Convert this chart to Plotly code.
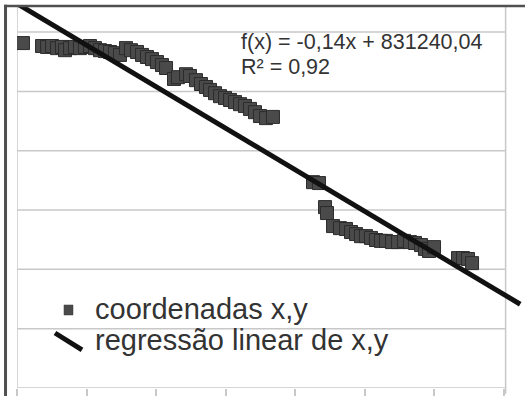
import plotly.graph_objects as go

# ---- data ----
cluster1_x = [499686, 499960, 500032, 500104, 500176, 500247, 500291, 500363, 500434, 500506,
              500578, 500650, 500722, 500794, 500866, 500938, 501010, 501082, 501168, 501240,
              501327, 501399, 501470, 501542, 501614, 501686, 501744, 501859, 501916, 502032,
              502089, 502175, 502247, 502319, 502377, 502449, 502521, 502593, 502665, 502737,
              502809, 502880, 502952, 503024, 503096, 503183, 503283]
cluster1_y = [761163, 761153, 761150, 761153, 761146, 761150, 761139, 761146, 761150, 761146,
              761150, 761153, 761146, 761139, 761136, 761133, 761129, 761123, 761146, 761139,
              761133, 761123, 761116, 761109, 761099, 761089, 761079, 761042, 761048, 761058,
              761052, 761038, 761025, 761015, 761005, 760994, 760984, 760978, 760971, 760964,
              760957, 760951, 760941, 760930, 760917, 760910, 760914]
cluster2_x = [503859, 503945, 504032, 504060, 504147, 504247, 504334, 504406, 504478, 504549,
              504621, 504693, 504765, 504837, 504909, 504996, 505082, 505168, 505254, 505326,
              505413, 505470, 505528, 505600, 505945, 506017, 506089, 506147]
cluster2_y = [760694, 760691, 760610, 760590, 760546, 760539, 760536, 760526, 760519, 760512,
              760512, 760506, 760499, 760496, 760496, 760492, 760492, 760496, 760492, 760489,
              760482, 760469, 760462, 760475, 760438, 760438, 760435, 760421]

slope = -0.14
intercept = 831240.04
r2 = 0.92
line_x_ends = [499500, 506840]

x_ticks = [499600 + 1000 * i for i in range(8)]
y_grid = [760000 + 200 * i for i in range(1, 7)]

series_name = "coordenadas x,y"
line_name = "regressão linear de x,y"

# ---- figure ----
pts_x = cluster1_x + cluster2_x
pts_y = cluster1_y + cluster2_y
line_y = [intercept + slope * v for v in line_x_ends]

x_min, x_max = 499600, 506909
y_min, y_max = 760000, 761288
x_right = 506630

fig = go.Figure()
fig.add_trace(go.Scatter(
    x=pts_x, y=pts_y, mode="markers", name=series_name, showlegend=False,
    marker=dict(symbol="square", size=13, color="#4a4a4a",
                line=dict(color="#2c2c2c", width=1)),
))
fig.add_trace(go.Scatter(
    x=line_x_ends, y=line_y, mode="lines", name=line_name, showlegend=False,
    line=dict(color="#111111", width=5),
))

shapes = []
grey = "#c8c8c8"
for g in y_grid:
    shapes.append(dict(type="line", xref="x", yref="y", x0=x_min, x1=x_right, y0=g, y1=g,
                       line=dict(color=grey, width=1.5), layer="below"))
# bottom axis line
shapes.append(dict(type="line", xref="x", yref="y", x0=x_min, x1=x_right, y0=y_min, y1=y_min,
                   line=dict(color=grey, width=1.5), layer="below"))
# left / right plot-area lines
shapes.append(dict(type="line", xref="x", yref="paper", x0=x_min, x1=x_min, y0=0, y1=1,
                   line=dict(color=grey, width=1.5), layer="below"))
shapes.append(dict(type="line", xref="x", yref="paper", x0=x_right, x1=x_right, y0=-0.015, y1=1,
                   line=dict(color=grey, width=1.5), layer="below"))
# outer dark border (top and left)
shapes.append(dict(type="line", xref="paper", yref="paper", x0=-0.0256, x1=1.0, y0=1.0, y1=1.0,
                   line=dict(color="#505050", width=2.5)))
shapes.append(dict(type="line", xref="paper", yref="paper", x0=-0.0226, x1=-0.0226, y0=1.003, y1=-0.03,
                   line=dict(color="#505050", width=3)))
# custom legend symbols
shapes.append(dict(type="rect", xref="paper", yref="paper", x0=0.0925, x1=0.1102, y0=0.1911, y1=0.2173,
                   fillcolor="#4a4a4a", line=dict(color="#3a3a3a", width=0.5)))
shapes.append(dict(type="line", xref="paper", yref="paper", x0=0.0748, y0=0.144, x1=0.128, y1=0.0995,
                   line=dict(color="#111111", width=5)))

font_family = "Liberation Sans, Arial, sans-serif"
annotations = [
    dict(text="f(x) = " + f"{slope:.2f}".replace(".", ",") + "x + " + f"{intercept:.2f}".replace(".", ","),
         xref="paper", yref="paper", x=0.437, y=0.905, xanchor="left", yanchor="middle",
         showarrow=False, font=dict(size=21.5, color="#333333", family=font_family)),
    dict(text="R² = " + f"{r2:.2f}".replace(".", ","),
         xref="paper", yref="paper", x=0.437, y=0.840, xanchor="left", yanchor="middle",
         showarrow=False, font=dict(size=21.5, color="#333333", family=font_family)),
    dict(text=series_name, xref="paper", yref="paper", x=0.150, y=0.206,
         xanchor="left", yanchor="middle", showarrow=False,
         font=dict(size=29, color="#333333", family=font_family)),
    dict(text=line_name, xref="paper", yref="paper", x=0.150, y=0.126,
         xanchor="left", yanchor="middle", showarrow=False,
         font=dict(size=29, color="#333333", family=font_family)),
]

fig.update_layout(
    width=525, height=396,
    margin=dict(l=17, r=0, t=6, b=8, pad=0),
    paper_bgcolor="white", plot_bgcolor="white",
    showlegend=False,
    shapes=shapes, annotations=annotations,
    xaxis=dict(range=[x_min, x_max], showgrid=False, zeroline=False, showline=False,
               showticklabels=False, ticks="outside", tickmode="array", tickvals=x_ticks,
               ticklen=8, tickwidth=1.5, tickcolor=grey),
    yaxis=dict(range=[y_min, y_max], showgrid=False, zeroline=False, showline=False,
               showticklabels=False, ticks=""),
)

fig.write_html("out.html",
               config={"displayModeBar": False},
               post_script="document.body.style.margin='0';document.body.style.overflow='hidden';")
